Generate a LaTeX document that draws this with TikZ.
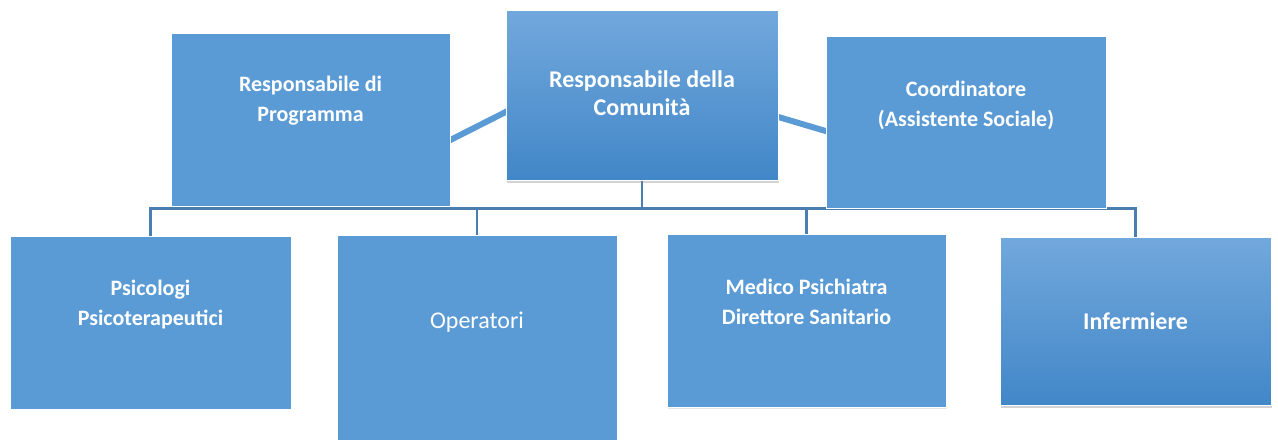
\documentclass[tikz,border=0pt]{standalone}
\usepackage{fontspec}
\setmainfont{Carlito}
\usetikzlibrary{calc,shadows,backgrounds,positioning}
\definecolor{boxblue}{HTML}{5B9BD5}
\definecolor{toptint}{HTML}{72A8DC}
\definecolor{bottint}{HTML}{4287C8}
\definecolor{treeline}{HTML}{4A7DB0}
\tikzset{
    box/.style={
           rectangle,
           fill=boxblue,
           draw=white, line width=0.8pt,
           inner sep=0pt,
           },
    shadedbox/.style={
           box,
           top color=toptint,
           bottom color=bottint,
           drop shadow={shadow xshift=1pt, shadow yshift=-3pt, opacity=0.35},
           },
    lbl/.style={
           text=white,
           font=\bfseries\fontsize{22}{30}\selectfont,
           align=center,
           },
    biglbl/.style={
           lbl,
           font=\bfseries\fontsize{24}{28}\selectfont,
           },
    link/.style={boxblue, line width=6pt},
    tree/.style={treeline, line width=2.6pt},
}
\begin{document}
\begin{tikzpicture}[x=1pt, y=-1pt]
\useasboundingbox (0,0) rectangle (1278,445);
% TOP ROW
% Responsabile della Comunita (RC)
\node[shadedbox, minimum width=272pt, minimum height=170pt] (RC) at (642,95) {};
% Responsabile di Programma (RP)
\node[box, minimum width=279pt, minimum height=173pt] (RP) at (310.5,119.5) {};
% Coordinatore (CO)
\node[box, minimum width=280pt, minimum height=172pt] (CO) at (966,122) {};
% BOTTOM ROW
% Psicologi (PS)
\node[box, minimum width=281pt, minimum height=173pt] (PS) at (150.5,322.5) {};
% Operatori (OP)
\node[box, minimum width=280pt, minimum height=205pt] (OP) at (477,337.5) {};
% Medico Psichiatra (MD)
\node[box, minimum width=279pt, minimum height=173pt,
drop shadow={shadow xshift=1pt, shadow yshift=-2pt, opacity=0.2}] (MD) at (806.5,320.5) {};
% Infermiere (IN)
\node[shadedbox, minimum width=271pt, minimum height=168pt] (IN) at (1135.5,321) {};
% Texts
\node[biglbl] (RCt) at ($(RC)+(0,-2)$) {Responsabile della\\Comunità};
\node[lbl] (RPt) at ($(RP)+(0,-18.5)$) {Responsabile di\\Programma};
\node[lbl] (COt) at ($(CO)+(0,-17)$) {Coordinatore\\(Assistente Sociale)};
\node[lbl] (PSt) at ($(PS)+(0,-17.5)$) {Psicologi\\Psicoterapeutici};
\node[lbl, font=\fontsize{24}{30}\selectfont] (OPt) at ($(OP)+(0,-15.5)$) {Operatori};
\node[lbl] (MDt) at ($(MD)+(0,-18.5)$) {Medico Psichiatra\\Direttore Sanitario};
\node[biglbl] (INt) at (IN) {Infermiere};
% Draw lines on graph
\begin{scope}[on background layer]
\draw[link] ($(RP.east)+(-4,22.5)$) -- ($(RC.west)+(4,15)$);
\draw[link] ($(RC.east)+(-4,20.8)$) -- ($(CO.west)+(4,10.2)$);
\coordinate (bus) at ($(RC.south)+(0,28)$);
\draw[tree] (RC.south) -- (bus);
\foreach \n in {PS,OP,MD,IN}
    \draw[tree] (bus) -| (\n.north);
\end{scope}
\end{tikzpicture}
\end{document}
